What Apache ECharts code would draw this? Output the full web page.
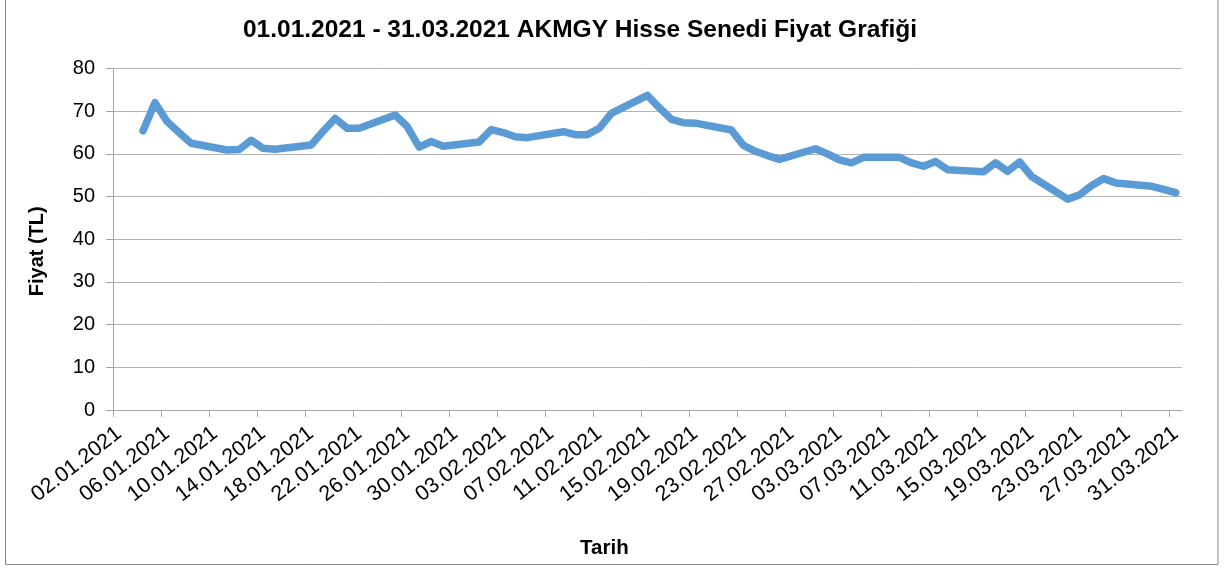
<!DOCTYPE html>
<html>
<head>
<meta charset="utf-8">
<script src="https://cdn.jsdelivr.net/npm/echarts@6/dist/echarts.min.js"></script>
<style>
html,body{margin:0;padding:0;background:#fff;}
#chart{width:1229px;height:569px;}
</style>
</head>
<body>
<div id="chart"></div>
<script>
// Trading dates (dd.mm.yyyy) and closing prices (TL)
var dates = [
  '04.01.2021','05.01.2021','06.01.2021','07.01.2021','08.01.2021',
  '11.01.2021','12.01.2021','13.01.2021','14.01.2021','15.01.2021',
  '18.01.2021','19.01.2021','20.01.2021','21.01.2021','22.01.2021',
  '25.01.2021','26.01.2021','27.01.2021','28.01.2021','29.01.2021',
  '01.02.2021','02.02.2021','03.02.2021','04.02.2021','05.02.2021',
  '08.02.2021','09.02.2021','10.02.2021','11.02.2021','12.02.2021',
  '15.02.2021','16.02.2021','17.02.2021','18.02.2021','19.02.2021',
  '22.02.2021','23.02.2021','24.02.2021','25.02.2021','26.02.2021',
  '01.03.2021','02.03.2021','03.03.2021','04.03.2021','05.03.2021',
  '08.03.2021','09.03.2021','10.03.2021','11.03.2021','12.03.2021',
  '15.03.2021','16.03.2021','17.03.2021','18.03.2021','19.03.2021',
  '22.03.2021','23.03.2021','24.03.2021','25.03.2021','26.03.2021',
  '29.03.2021','30.03.2021','31.03.2021'
];
var prices = [
  65.4, 72.0, 67.6, 65.0, 62.5,
  60.9, 61.0, 63.2, 61.3, 61.1,
  62.1, 65.3, 68.3, 66.0, 66.0,
  69.1, 66.4, 61.6, 62.9, 61.8,
  62.8, 65.7, 65.0, 64.0, 63.8,
  65.2, 64.5, 64.5, 66.0, 69.5,
  73.7, 70.8, 68.1, 67.3, 67.2,
  65.6, 62.0, 60.6, 59.6, 58.7,
  61.2, 60.0, 58.6, 57.9, 59.2,
  59.2, 57.9, 57.1, 58.2, 56.3,
  55.8, 57.9, 55.9, 58.1, 54.7,
  49.4, 50.4, 52.6, 54.2, 53.2,
  52.4, 51.7, 50.9
];
// Tick labels of the date axis
var tickLabels = [
  '02.01.2021','06.01.2021','10.01.2021','14.01.2021','18.01.2021','22.01.2021',
  '26.01.2021','30.01.2021','03.02.2021','07.02.2021','11.02.2021','15.02.2021',
  '19.02.2021','23.02.2021','27.02.2021','03.03.2021','07.03.2021','11.03.2021',
  '15.03.2021','19.03.2021','23.03.2021','27.03.2021','31.03.2021'
];
var yTicks = [0, 10, 20, 30, 40, 50, 60, 70, 80];
var axisStart = '02.01.2021';
var axisEnd = '01.04.2021';

function dayNum(s) {
  var p = s.split('.');
  return Date.UTC(+p[2], +p[1] - 1, +p[0]) / 86400000;
}
var d0 = dayNum(axisStart);
function dayIdx(s) { return dayNum(s) - d0; }

var seriesData = dates.map(function (d, i) { return [dayIdx(d) + 0.5, prices[i]]; });
var tickVals = tickLabels.map(function (d) { return dayIdx(d); });
var labelVals = tickLabels.map(function (d) { return dayIdx(d) + 0.5; });
var labelMap = {};
tickLabels.forEach(function (d, i) { labelMap[labelVals[i]] = d; });

var FONT = "'Liberation Sans', Arial, sans-serif";
var chart = echarts.init(document.getElementById('chart'), null, { renderer: 'canvas' });
chart.setOption({
  animation: false,
  backgroundColor: '#ffffff',
  title: {
    text: '01.01.2021 - 31.03.2021 AKMGY Hisse Senedi Fiyat Grafiği',
    left: 580, top: 18, textAlign: 'center', padding: 0,
    textStyle: { fontFamily: FONT, fontSize: 24.5, fontWeight: 'bold', color: '#000' }
  },
  graphic: [{
    type: 'rect', silent: true, z: -10,
    shape: { x: 5.5, y: -5, width: 1212.5, height: 569.5 },
    style: { fill: null, stroke: '#868686', lineWidth: 1 }
  }],
  grid: { left: 113, right: 47.3, top: 68.5, bottom: 159 },
  xAxis: {
    type: 'value',
    min: 0, max: dayIdx(axisEnd), interval: 4,
    name: 'Tarih', nameLocation: 'middle', nameGap: 128,
    nameTextStyle: { fontFamily: FONT, fontSize: 20.5, fontWeight: 'bold', color: '#000', padding: [0, 86, 0, 0] },
    axisLine: { show: true, lineStyle: { color: '#a6a6a6', width: 1 } },
    axisTick: { show: true, length: 7, lineStyle: { color: '#a6a6a6' }, customValues: tickVals },
    splitLine: { show: false },
    axisLabel: {
      customValues: labelVals,
      rotate: 38, margin: 21,
      fontFamily: FONT, fontSize: 21.5, color: '#000',
      formatter: function (v) { return labelMap[v] || ''; }
    }
  },
  yAxis: {
    type: 'value', min: 0, max: 80, interval: 10,
    name: 'Fiyat (TL)', nameLocation: 'middle', nameGap: 66, nameRotate: 90,
    nameTextStyle: { fontFamily: FONT, fontSize: 20, fontWeight: 'bold', color: '#000', padding: [0, 24, 0, 0] },
    axisLine: { show: true, lineStyle: { color: '#a6a6a6', width: 1 } },
    axisTick: { show: true, length: 7, lineStyle: { color: '#a6a6a6' } },
    splitLine: { show: true, lineStyle: { color: '#b3b3b3', width: 1 } },
    axisLabel: {
      margin: 18, fontFamily: FONT, fontSize: 20, color: '#000',
      customValues: yTicks
    }
  },
  series: [{
    type: 'line',
    data: seriesData,
    showSymbol: false,
    symbol: 'none',
    lineStyle: { color: '#5b9bd5', width: 7.5, cap: 'round', join: 'round' },
    itemStyle: { color: '#5b9bd5' }
  }]
});
</script>
</body>
</html>
